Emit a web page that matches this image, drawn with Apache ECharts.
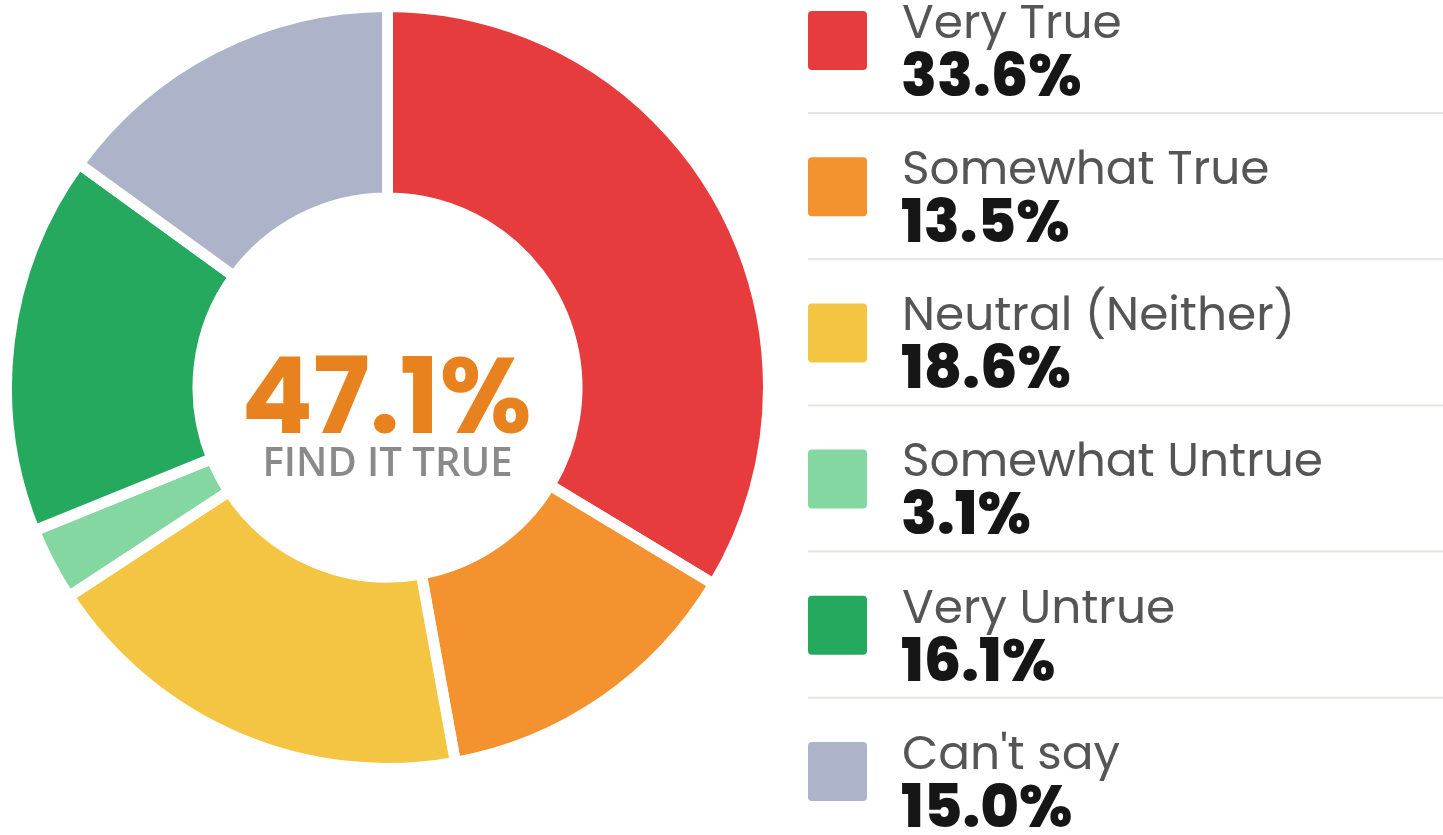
<!DOCTYPE html>
<html><head><meta charset="utf-8">
<script src="https://cdn.jsdelivr.net/npm/echarts@6/dist/echarts.min.js"></script>
<style>html,body{margin:0;padding:0;background:#fff}#c{width:1443px;height:835px}</style>
</head><body><div id="c"></div>
<script>
const categories = ['Very True','Somewhat True','Neutral (Neither)','Somewhat Untrue','Very Untrue',"Can't say"];
const values = [33.6, 13.5, 18.6, 3.1, 16.1, 15.0];
const colors = ['#E73C3E','#F3922E','#F4C542','#84D7A0','#25A95E','#ADB3C8'];
const centerValue = '47.1%';
const centerLabel = 'FIND IT TRUE';

const chart = echarts.init(document.getElementById('c'), null, {renderer:'canvas'});
const STEP = 146.2;
const legendEls = [];
categories.forEach((name, i) => {
  const y0 = STEP * i;
  legendEls.push({type:'rect', silent:true, shape:{x:808, y:11 + y0, width:59, height:59, r:4},
    style:{fill:colors[i]}});
  legendEls.push({type:'text', silent:true, x:902, y:26 + y0,
    style:{text:name, align:'left', verticalAlign:'middle',
      font:'400 47px Poppins, Inter, sans-serif', fill:'#555555'}});
  legendEls.push({type:'text', silent:true, x:901, y:81 + y0,
    style:{text:values[i].toFixed(1) + '%', align:'left', verticalAlign:'middle',
      font:'800 59px Poppins, Inter, sans-serif', fill:'#161616'}});
  if (i < categories.length - 1) {
    legendEls.push({type:'line', silent:true, shape:{x1:808, y1:113 + y0, x2:1443, y2:113 + y0},
      style:{stroke:'#E7E3DE', lineWidth:2}});
  }
});
chart.setOption({
  animation:false,
  color: colors,
  graphic: legendEls.concat([
    {type:'text', silent:true, x:386.5, y:406,
      style:{text:centerValue, align:'center', verticalAlign:'middle',
        font:'700 106px Poppins, Inter, sans-serif', fill:'#E8821E'}},
    {type:'text', silent:true, x:387.5, y:465,
      style:{text:centerLabel, align:'center', verticalAlign:'middle',
        font:'600 40px "Open Sans", sans-serif', fill:'#8A8A8A'}}
  ]),
  series: [{
    type:'pie',
    center:[387.5, 387.5],
    radius:[189.5, 381],
    startAngle:90,
    clockwise:true,
    label:{show:false}, labelLine:{show:false},
    emphasis:{disabled:true},
    itemStyle:{borderColor:'#ffffff', borderWidth:11},
    data: categories.map((c,i)=>({name:c, value:values[i]}))
  }]
});
</script></body></html>
